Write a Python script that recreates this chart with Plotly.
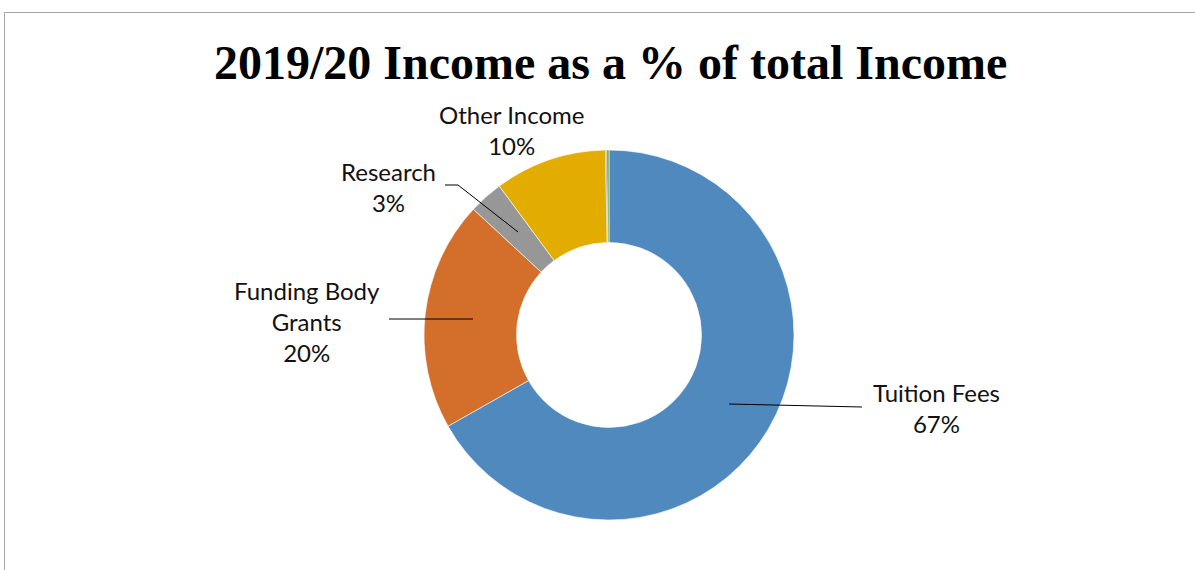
import plotly.graph_objects as go

# Income streams, in clockwise order from 12 o'clock
categories = ["Tuition Fees", "Funding Body Grants", "Research", "Other Income",
              "Investment Income", "Donations and Endowments"]
shares = [66.8, 20.1, 3.0, 9.8, 0.1, 0.2]
colors = ["#4F89BE", "#D36F2B", "#979797", "#E2AC00", "#2E4C8C", "#6EA043"]

# Text shown beside each labelled slice (line-broken as drawn)
label_text = {
    "Tuition Fees": "Tuition Fees",
    "Funding Body Grants": "Funding Body<br>Grants",
    "Research": "Research",
    "Other Income": "Other Income",
}

W, H = 1195, 570
total = sum(shares)


def px(x):
    return x / W


def py(y):
    return 1 - y / H


fig = go.Figure(go.Pie(
    labels=categories,
    values=shares,
    hole=0.5,
    sort=False,
    direction="clockwise",
    rotation=0,
    marker=dict(colors=colors, line=dict(color="white", width=0.6)),
    textinfo="none",
    showlegend=False,
    domain=dict(x=[px(424), px(794)], y=[py(520), py(150)]),
))

# label anchor positions (centre of text block) in pixels
label_pos = {
    "Tuition Fees": (936, 408),
    "Funding Body Grants": (307, 321),
    "Research": (388, 187),
    "Other Income": (511, 130),
}

annotations = []
for name, (x, y) in label_pos.items():
    pct = round(shares[categories.index(name)] / total * 100)
    annotations.append(dict(
        x=px(x), y=py(y), xref="paper", yref="paper",
        text=f"{label_text[name]}<br>{pct}%",
        showarrow=False, xanchor="center", yanchor="middle",
        align="center",
        font=dict(family="Lato, Carlito, sans-serif", size=24, color="#111111"),
    ))

annotations.append(dict(
    x=px(610), y=py(62), xref="paper", yref="paper",
    text="<b>2019/20 Income as a % of total Income</b>",
    showarrow=False, xanchor="center", yanchor="middle",
    font=dict(family="Liberation Serif, Times New Roman, serif", size=48, color="black"),
))

leader = dict(color="black", width=1)
shapes = [
    # outer frame of the chart area
    dict(type="rect", xref="paper", yref="paper",
         x0=px(4.5), y0=py(600), x1=px(1220), y1=py(12.5),
         line=dict(color="#A6A6A6", width=1)),
    # leader lines
    dict(type="line", xref="paper", yref="paper",
         x0=px(729), y0=py(404), x1=px(862), y1=py(407), line=leader),
    dict(type="line", xref="paper", yref="paper",
         x0=px(389), y0=py(319), x1=px(473), y1=py(319), line=leader),
    dict(type="path", xref="paper", yref="paper",
         path=f"M {px(445)},{py(185)} L {px(458)},{py(185)} L {px(518)},{py(232)}",
         line=leader),
]

fig.update_layout(
    width=W, height=H,
    margin=dict(l=0, r=0, t=0, b=0),
    paper_bgcolor="white",
    plot_bgcolor="white",
    annotations=annotations,
    shapes=shapes,
)

fig.write_html("out.html")
